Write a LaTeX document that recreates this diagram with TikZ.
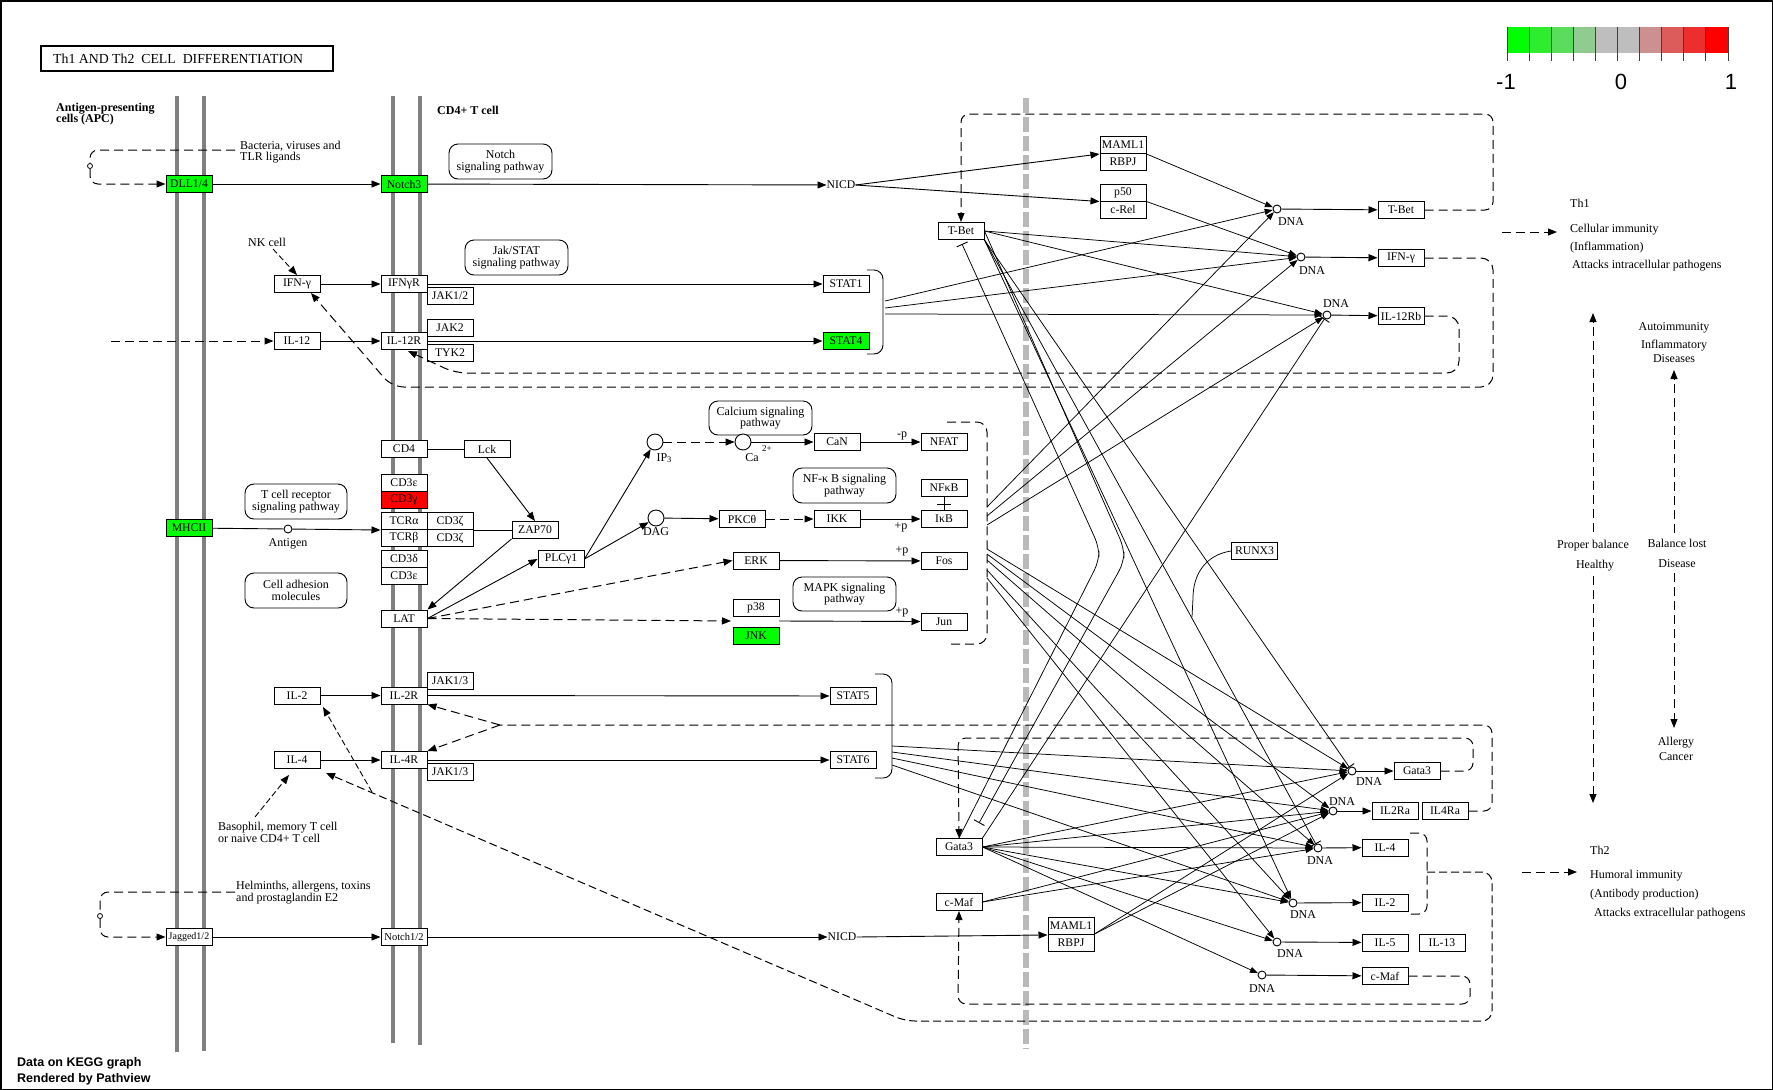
\documentclass[tikz,border=0pt]{standalone}
\usepackage{fontspec}
\setmainfont{Liberation Serif}
\newfontfamily\sansf{Liberation Sans}
\usetikzlibrary{arrows.meta}
\definecolor{kgreen}{RGB}{0,255,0}
\definecolor{kred}{RGB}{255,0,0}
\definecolor{memb}{RGB}{128,128,128}
\definecolor{dmemb}{RGB}{185,185,185}
\definecolor{lga}{RGB}{0,255,0}
\definecolor{lgb}{RGB}{46,236,46}
\definecolor{lgc}{RGB}{92,220,92}
\definecolor{lgd}{RGB}{144,204,144}
\definecolor{lge}{RGB}{190,190,190}
\definecolor{lgf}{RGB}{190,190,190}
\definecolor{lgg}{RGB}{204,144,144}
\definecolor{lgh}{RGB}{220,92,92}
\definecolor{lgi}{RGB}{236,46,46}
\definecolor{lgj}{RGB}{255,0,0}
\newcommand\kgf{\fontsize{11.7}{11.7}\selectfont}
\newcommand\kaf{\fontsize{12}{11.3}\selectfont}
\begin{document}
\begin{tikzpicture}[x=1pt,y=-1pt,
 gene/.style={draw,line width=1pt,minimum width=46pt,minimum height=17pt,inner sep=0pt,font=\kgf,fill=white},
 ggene/.style={gene,fill=kgreen},
 rgene/.style={gene,fill=kred},
 pwbox/.style={draw,line width=0.9pt,rounded corners=9pt,minimum width=103pt,minimum height=35pt,align=center,inner sep=0pt,font=\kaf},
 conn/.style={line width=0.9pt},
 ktip/.style={-{Triangle[length=9pt,width=7pt]}},
 arr/.style={conn,ktip},
 dconn/.style={line width=1pt,dash pattern=on 9pt off 5pt},
 darr/.style={dconn,ktip},
 fconn/.style={line width=0.9pt,dash pattern=on 6pt off 3pt},
 farr/.style={fconn,ktip},
 fan/.style={line width=0.75pt,-{Triangle[length=8pt,width=6pt]}},
 finh/.style={line width=0.75pt,-{Bar[width=12pt,line width=0.9pt]}},
 dna/.style={circle,draw,line width=0.9pt,minimum size=8pt,inner sep=0pt,fill=white},
 smc/.style={circle,draw,line width=0.9pt,minimum size=16pt,inner sep=0pt,fill=white},
 txt/.style={font=\kaf,inner sep=0pt},
 btxt/.style={font=\kaf\bfseries,inner sep=0pt,align=left}
]
\useasboundingbox (0,0) rectangle (1773,1090);
\draw[line width=1.5pt] (0.75,0.75) rectangle (1772.25,1089.25);

% title
\draw[line width=2pt] (41,46) rectangle (333,71);
\node[anchor=west,font=\fontsize{13.8}{13.8}\selectfont,inner sep=0pt] (title) at (53,58.5) {Th1 AND Th2\ \ CELL\ \ DIFFERENTIATION};

% legend
\foreach \c [count=\i from 0] in {lga,lgb,lgc,lgd,lge,lgf,lgg,lgh,lgi,lgj}
  \fill[\c] (1507+\i*22.1,27) rectangle (1529.1+\i*22.1,53);
\foreach \i in {0,...,10}
  \draw[line width=0.9pt,black!75] (1507+\i*22.1,27) -- (1507+\i*22.1,61);
\node[font=\sansf\fontsize{22}{22}\selectfont,inner sep=0pt] (lm1) at (1506,82) {-1};
\node[font=\sansf\fontsize{22}{22}\selectfont,inner sep=0pt] (l0) at (1621,82) {0};
\node[font=\sansf\fontsize{22}{22}\selectfont,inner sep=0pt] (l1) at (1731,82) {1};

% footer
\node[anchor=west,font=\sansf\bfseries\fontsize{12.5}{12.5}\selectfont,inner sep=0pt] (f1) at (17,1063) {Data on KEGG graph};
\node[anchor=west,font=\sansf\bfseries\fontsize{12.5}{12.5}\selectfont,inner sep=0pt] (f2) at (17,1079) {Rendered by Pathview};

% membranes
\draw[memb,line width=4pt] (177,96) -- (177,1052);
\draw[memb,line width=4pt] (204,96) -- (204,1051);
\draw[memb,line width=4pt] (393,96) -- (393,1043);
\draw[memb,line width=4pt] (420,96) -- (420,1045);
\draw[dmemb,line width=5.5pt,dash pattern=on 15pt off 4pt] (1026,98) -- (1026,1049);

% labels
\node[btxt,anchor=west] (apc) at (56,114) {Antigen-presenting\\cells (APC)};
\node[btxt,anchor=west] (cd4t) at (437,110) {CD4+ T cell};
\node[txt,anchor=west,align=left] (bact) at (240,152) {Bacteria, viruses and\\TLR ligands};
\node[txt,anchor=west] (nkc) at (248,242) {NK cell};
\node[txt,anchor=west,align=left] (baso) at (218,832.5) {Basophil, memory T cell\\or naive CD4+ T cell};
\node[txt,anchor=west,align=left] (helm) at (236,892.5) {Helminths, allergens, toxins\\and prostaglandin E2};

% pathway boxes
\node[pwbox] (pwN) at (500.5,161.5) {Notch\\signaling pathway};
\node[pwbox] (pwJ) at (516.5,257.5) {Jak/STAT\\signaling pathway};
\node[pwbox,minimum width=102pt] (pwT) at (296,501.5) {T cell receptor\\signaling pathway};
\node[pwbox,minimum width=102pt] (pwC) at (296,590.5) {Cell adhesion\\molecules};
\node[pwbox,minimum height=34pt] (pwCa) at (760.5,418) {Calcium signaling\\pathway};
\node[pwbox] (pwNF) at (844.5,485.5) {NF-κ B signaling\\pathway};
\node[pwbox,minimum height=34pt] (pwM) at (844.5,594) {MAPK signaling\\pathway};

% genes top
\node[ggene] (DLL) at (189,184) {DLL1/4};
\node[ggene] (Notch3) at (404,184) {Notch3};
\node[gene] (IFNgL) at (297,284) {IFN-γ};
\node[gene] (IFNgR) at (404,284) {IFNγR};
\node[gene] (JAK12) at (450,296) {JAK1/2};
\node[gene] (IL12) at (297,341) {IL-12};
\node[gene] (IL12R) at (404,341) {IL-12R};
\node[gene] (JAK2) at (450,327.5) {JAK2};
\node[gene] (TYK2) at (450,352.5) {TYK2};
\node[gene] (STAT1) at (846,284) {STAT1};
\node[ggene] (STAT4) at (846,341) {STAT4};
\node[txt,font=\kgf] (NICDa) at (841,185) {NICD};
\node[gene] (MAML1a) at (1123,145) {MAML1};
\node[gene] (RBPJa) at (1123,162) {RBPJ};
\node[gene] (p50) at (1123,192.5) {p50};
\node[gene] (cRel) at (1123,209.5) {c-Rel};
\node[gene] (TBetL) at (961,231) {T-Bet};
\node[dna] (DNAa) at (1277,209) {};
\node[dna] (DNAb) at (1301,257) {};
\node[dna] (DNAc) at (1327,315) {};
\node[txt] (dla) at (1291,222) {DNA};
\node[txt] (dlb) at (1312,271) {DNA};
\node[txt] (dlc) at (1336,304) {DNA};
\node[gene] (TBetR) at (1401,210) {T-Bet};
\node[gene] (IFNgRt) at (1401,258) {IFN-γ};
\node[gene] (IL12Rb) at (1401,316) {IL-12Rb};

% TCR block
\node[gene] (CD4) at (404,449) {CD4};
\node[gene] (Lck) at (487,449) {Lck};
\node[gene] (CD3e1) at (404,482.5) {CD3ε};
\node[rgene] (CD3g) at (404,499.5) {CD3γ};
\node[gene] (TCRa) at (404,521) {TCRα};
\node[gene] (TCRb) at (404,538) {TCRβ};
\node[gene] (CD3z1) at (450,521) {CD3ζ};
\node[gene] (CD3z2) at (450,538) {CD3ζ};
\node[gene] (CD3d) at (404,558.5) {CD3δ};
\node[gene] (CD3e2) at (404,575.5) {CD3ε};
\node[gene] (LAT) at (404,618.5) {LAT};
\node[gene] (ZAP70) at (535,530) {ZAP70};
\node[gene] (PLCg) at (561,559) {PLCγ1};
\node[smc] (IP3) at (655,442) {};
\node[smc] (DAG) at (656,518) {};
\node[smc] (Ca) at (743,442) {};
\node[txt] (IP3l) at (664,458) {IP\raisebox{-1.5pt}{\fontsize{8.5}{8.5}\selectfont 3}};
\node[txt] (DAGl) at (656,532) {DAG};
\node[txt] (Cal) at (752,458) {Ca};
\node[txt,font=\fontsize{9}{9}\selectfont] (Ca2) at (767,449) {2+};
\node[gene] (CaN) at (837,442) {CaN};
\node[gene] (NFAT) at (944,442) {NFAT};
\node[gene] (PKC) at (742,519) {PKCθ};
\node[gene] (IKK) at (837,519) {IKK};
\node[gene] (IkB) at (944,519) {IκB};
\node[gene] (NFkB) at (944,487.5) {NFκB};
\node[gene] (ERK) at (756,560.5) {ERK};
\node[gene] (Fos) at (944,561) {Fos};
\node[gene] (p38) at (756,607.5) {p38};
\node[ggene] (JNK) at (756,635.5) {JNK};
\node[gene] (Jun) at (944,621.5) {Jun};
\node[ggene] (MHCII) at (189,528) {MHCII};
\node[dna] (ag) at (288,529) {};
\node[txt] (agl) at (288,544) {Antigen};
\node[txt] (pm) at (902,436) {-p};
\node[txt] (pp1) at (901,527) {+p};
\node[txt] (pp2) at (902,551) {+p};
\node[txt] (pp3) at (902,612) {+p};

% bottom block
\node[gene] (IL2L) at (297,695.5) {IL-2};
\node[gene] (IL2R) at (404,695.5) {IL-2R};
\node[gene] (JAK13a) at (450,680.5) {JAK1/3};
\node[gene] (STAT5) at (853,696) {STAT5};
\node[gene] (IL4L) at (297,760) {IL-4};
\node[gene] (IL4R) at (404,760) {IL-4R};
\node[gene] (JAK13b) at (450,771.5) {JAK1/3};
\node[gene] (STAT6) at (853,760) {STAT6};
\node[gene,font=\fontsize{10}{10}\selectfont] (Jag) at (189,937) {Jagged1/2};
\node[gene,font=\fontsize{10.5}{10.5}\selectfont] (Notch12) at (404,937) {Notch1/2};
\node[txt,font=\kgf] (NICDb) at (842,937) {NICD};
\node[gene] (MAML1b) at (1071,926) {MAML1};
\node[gene] (RBPJb) at (1071,943) {RBPJ};
\node[gene] (Gata3L) at (959,847) {Gata3};
\node[gene] (cMafL) at (959,902) {c-Maf};
\node[gene] (RUNX3) at (1254.5,551) {RUNX3};
\node[dna] (DNAd) at (1352,771) {};
\node[dna] (DNAe) at (1333,811) {};
\node[dna] (DNAf) at (1318,848) {};
\node[dna] (DNAg) at (1293,903) {};
\node[dna] (DNAh) at (1277,942) {};
\node[dna] (DNAi) at (1262,975) {};
\node[txt] (dld) at (1369,782) {DNA};
\node[txt] (dle) at (1342,802) {DNA};
\node[txt] (dlf) at (1320,861) {DNA};
\node[txt] (dlg) at (1303,915) {DNA};
\node[txt] (dlh) at (1290,954) {DNA};
\node[txt] (dli) at (1262,989) {DNA};
\node[gene] (Gata3R) at (1417,771) {Gata3};
\node[gene] (IL2Ra) at (1395,811) {IL2Ra};
\node[gene] (IL4Ra) at (1445,811) {IL4Ra};
\node[gene] (IL4Rt) at (1385,847.5) {IL-4};
\node[gene] (IL2Rt) at (1385,902.5) {IL-2};
\node[gene] (IL5) at (1385,942.5) {IL-5};
\node[gene] (IL13) at (1442,942.5) {IL-13};
\node[gene] (cMafR) at (1385,976) {c-Maf};

% right texts
\node[txt,anchor=west] (th1) at (1570,203) {Th1};
\node[txt,anchor=west] (th1a) at (1570,230) {Cellular immunity};
\node[txt,anchor=west] (th1b) at (1570,248) {(Inflammation)};
\node[txt,anchor=west] (th1c) at (1572,266) {Attacks intracellular pathogens};
\node[txt] (aut1) at (1674,328) {Autoimmunity};
\node[txt] (aut2) at (1674,346) {Inflammatory};
\node[txt] (aut3) at (1674,359) {Diseases};
\node[txt] (pb1) at (1593,546) {Proper balance};
\node[txt] (pb2) at (1595,566) {Healthy};
\node[txt] (bl1) at (1677,543) {Balance lost};
\node[txt] (bl2) at (1677,564) {Disease};
\node[txt] (al1) at (1676,743) {Allergy};
\node[txt] (al2) at (1676,757) {Cancer};
\node[txt,anchor=west] (th2) at (1590,850) {Th2};
\node[txt,anchor=west] (th2a) at (1590,876) {Humoral immunity};
\node[txt,anchor=west] (th2b) at (1590,895) {(Antibody production)};
\node[txt,anchor=west] (th2c) at (1594,914) {Attacks extracellular pathogens};

% coordinates
\coordinate (bac0) at (235,150);
\coordinate (hel0) at (235,892);
\coordinate (il12s) at (111,341);
\coordinate (nk1) at (273,249);
\coordinate (bs1) at (255,817);
\coordinate (bs2) at (289,775);
\coordinate (sb1) at (885,301);
\coordinate (sb2) at (885,308);
\coordinate (sb3) at (885,314);
\coordinate (nb1) at (987,507);
\coordinate (nb2) at (987,516);
\coordinate (nb3) at (987,525);
\coordinate (nb4) at (987,549);
\coordinate (nb5) at (987,554);
\coordinate (nb6) at (987,560);
\coordinate (nb7) at (987,570);
\coordinate (nb8) at (987,578);
\coordinate (s5b1) at (892,746);
\coordinate (s5b2) at (892,752);
\coordinate (s5b3) at (892,758);
\coordinate (s5b4) at (892,765);
\coordinate (ifntip) at (311,293);
\coordinate (il12tip) at (408,351);
\coordinate (pjn) at (731,621);
\coordinate (pjo) at (779,621);
\coordinate (tbA) at (962,244);
\coordinate (gbB) at (979,823);
\coordinate (rjn) at (1192,617);
\coordinate (jn2) at (500,725);
\coordinate (jn3) at (372,792);
\coordinate (il4tip) at (326,773);
\coordinate (il2tip) at (323,707);
\coordinate (t1s) at (1502,232);
\coordinate (t1e) at (1557,232);
\coordinate (t2s) at (1522,872);
\coordinate (t2e) at (1577,872);
\coordinate (v1s) at (1593,532);
\coordinate (v1e) at (1593,313);
\coordinate (v2s) at (1593,576);
\coordinate (v2e) at (1593,803);
\coordinate (v3s) at (1674,533);
\coordinate (v3e) at (1674,370);
\coordinate (v4s) at (1674,573);
\coordinate (v4e) at (1674,728);

% left loops
\node[circle,draw,line width=0.8pt,minimum size=5pt,inner sep=0pt] (lp1) at (90,166) {};
\draw[dconn,rounded corners=8pt] (bac0) -- (90,150) -- (lp1.north);
\draw[darr,rounded corners=8pt] (lp1.south) -- (90,184) -- (DLL.west);
\node[circle,draw,line width=0.8pt,minimum size=5pt,inner sep=0pt] (lp2) at (100,916) {};
\draw[dconn,rounded corners=8pt] (hel0) -- (100,892) -- (lp2.north);
\draw[darr,rounded corners=8pt] (lp2.south) -- (100,937) -- (Jag.west);

% top connectors
\draw[arr] (DLL) -- (Notch3);
\draw[arr] (Notch3) -- (NICDa);
\draw[arr] (NICDa.east) -- (MAML1a.south west);
\draw[arr] (NICDa.east) -- (p50.south west);
\draw[arr] (IFNgL) -- (IFNgR);
\draw[arr] (IFNgR) -- (STAT1);
\draw[darr] (il12s) -- (IL12);
\draw[arr] (IL12) -- (IL12R);
\draw[arr] (IL12R) -- (STAT4);
\draw[farr] (nk1) -- (IFNgL.north);
\draw[conn,rounded corners=9pt] (867,270) -- (883,270) -- (883,354) -- (867,354);
\draw[fan] (sb1) -- (DNAa);
\draw[fan] (sb2) -- (DNAb);
\draw[fan] (sb3) -- (DNAc);
\draw[fan] (MAML1a.south east) -- (DNAa);
\draw[fan] (p50.south east) -- (DNAb);
\draw[fan] (TBetL.east) -- (DNAb);
\draw[fan] (TBetL.east) -- (DNAc);
\draw[fan] (nb1) -- (DNAa);
\draw[fan] (nb2) -- (DNAb);
\draw[fan] (nb3) -- (DNAc);
\draw[arr] (DNAa) -- (TBetR);
\draw[arr] (DNAb) -- (IFNgRt);
\draw[arr] (DNAc) -- (IL12Rb);
\draw[darr,rounded corners=8pt] (TBetR.east) -- (1493,210) -- (1493,114) -- (961,114) -- (TBetL.north);
\draw[darr,rounded corners=12pt] (IFNgRt.east) -- (1493,258) -- (1493,387) -- (392,387) -- (ifntip);
\draw[darr,rounded corners=12pt] (IL12Rb.east) -- (1459,316) -- (1459,373) -- (455,373) -- (il12tip);

% TCR connectors
\draw[conn] (MHCII) -- (ag);
\draw[arr] (ag) -- (TCRa.south west);
\draw[conn] (CD4) -- (Lck);
\draw[arr] (Lck.south) -- (ZAP70.north);
\draw[conn] (CD3z1.south east) -- (ZAP70.west);
\draw[arr] (ZAP70.south west) -- (LAT.north east);
\draw[arr] (LAT.east) -- (PLCg.west);
\draw[darr] (LAT.east) -- (ERK.west);
\draw[darr] (LAT.east) -- (pjn);
\draw[arr] (pjo) -- (Jun.west);
\draw[arr] (PLCg.east) -- (IP3);
\draw[arr] (PLCg.east) -- (DAG);
\draw[darr] (IP3) -- (Ca);
\draw[arr] (Ca) -- (CaN);
\draw[arr] (CaN) -- (NFAT);
\draw[arr] (DAG) -- (PKC);
\draw[darr] (PKC) -- (IKK);
\draw[arr] (IKK) -- (IkB);
\draw[arr] (ERK) -- (Fos);
\draw[conn] (NFkB) -- (IkB);
\draw[conn] (937,504) -- (951,504);
\draw[dconn,rounded corners=10pt] (947,422) -- (987,422) -- (987,644) -- (947,644);

% bottom connectors
\draw[arr] (IL2L) -- (IL2R);
\draw[arr] (IL2R) -- (STAT5);
\draw[arr] (IL4L) -- (IL4R);
\draw[arr] (IL4R) -- (STAT6);
\draw[arr] (Jag) -- (Notch12);
\draw[arr] (Notch12) -- (NICDb);
\draw[arr] (NICDb.east) -- (MAML1b.south west);
\draw[farr] (bs1) -- (bs2);
\draw[conn,rounded corners=9pt] (875,674) -- (892,674) -- (892,778) -- (875,778);
\draw[fan] (s5b1) -- (DNAd);
\draw[fan] (s5b2) -- (DNAe);
\draw[fan] (s5b3) -- (DNAf);
\draw[fan] (s5b4) -- (DNAg);
\draw[fan] (nb4) -- (DNAd);
\draw[fan] (nb5) -- (DNAe);
\draw[fan] (nb6) -- (DNAf);
\draw[fan] (nb7) -- (DNAg);
\draw[fan] (nb8) -- (DNAh);
\draw[fan] (Gata3L.east) -- (DNAd);
\draw[fan] (Gata3L.east) -- (DNAe);
\draw[fan] (Gata3L.east) -- (DNAf);
\draw[fan] (Gata3L.east) -- (DNAg);
\draw[fan] (Gata3L.east) -- (DNAh);
\draw[fan] (Gata3L.east) -- (DNAi);
\draw[finh] (Gata3L.north east) -- (DNAc);
\draw[fan] (cMafL.east) -- (DNAe);
\draw[fan] (cMafL.east) -- (DNAf);
\draw[fan] (RBPJb.north east) -- (DNAd);
\draw[fan] (RBPJb.north east) -- (DNAe);
\draw[fan] (TBetL.south east) -- (DNAg);
\draw[finh] (TBetL.south east) -- (DNAf);
\draw[finh] (TBetL.south east) -- (DNAd);
\draw[finh,rounded corners=10pt] (Gata3L.north) -- (1099,561) -- (1099,547) -- (tbA);
\draw[finh,rounded corners=10pt] (TBetL.east) -- (1124,548) -- (1124,562) -- (gbB);
\draw[line width=0.75pt] (RUNX3.west) .. controls (1205,555) and (1193,575) .. (1193,598) -- (rjn);
\draw[arr] (DNAd) -- (Gata3R);
\draw[arr] (DNAe) -- (IL2Ra);
\draw[arr] (DNAf) -- (IL4Rt);
\draw[arr] (DNAg) -- (IL2Rt);
\draw[arr] (DNAh) -- (IL5);
\draw[arr] (DNAi) -- (cMafR);
\draw[darr,rounded corners=8pt] (Gata3R.east) -- (1473,771) -- (1473,738) -- (958,738) -- (Gata3L.north);
\draw[dconn,rounded corners=8pt] (IL4Ra.east) -- (1492,811) -- (1492,725) -- (jn2);
\draw[darr] (jn2) -- (IL2R.south east);
\draw[darr] (jn2) -- (IL4R.north east);
\draw[dconn,rounded corners=8pt] (1410,833) -- (1427,833) -- (1427,914) -- (1410,914);
\draw[ktip,line width=1pt,dash pattern=on 8pt off 4pt,rounded corners=10pt] (1427,872) -- (1492,872) -- (1492,1021) -- (905,1021) -- (il4tip);
\draw[farr] (jn3) -- (il2tip);
\draw[darr,rounded corners=8pt] (cMafR.east) -- (1470,976) -- (1470,1004) -- (958,1004) -- (cMafL.south);

% right arrows
\draw[darr] (t1s) -- (t1e);
\draw[darr] (t2s) -- (t2e);
\draw[darr] (v1s) -- (v1e);
\draw[darr] (v2s) -- (v2e);
\draw[darr] (v3s) -- (v3e);
\draw[darr] (v4s) -- (v4e);
\end{tikzpicture}
\end{document}
